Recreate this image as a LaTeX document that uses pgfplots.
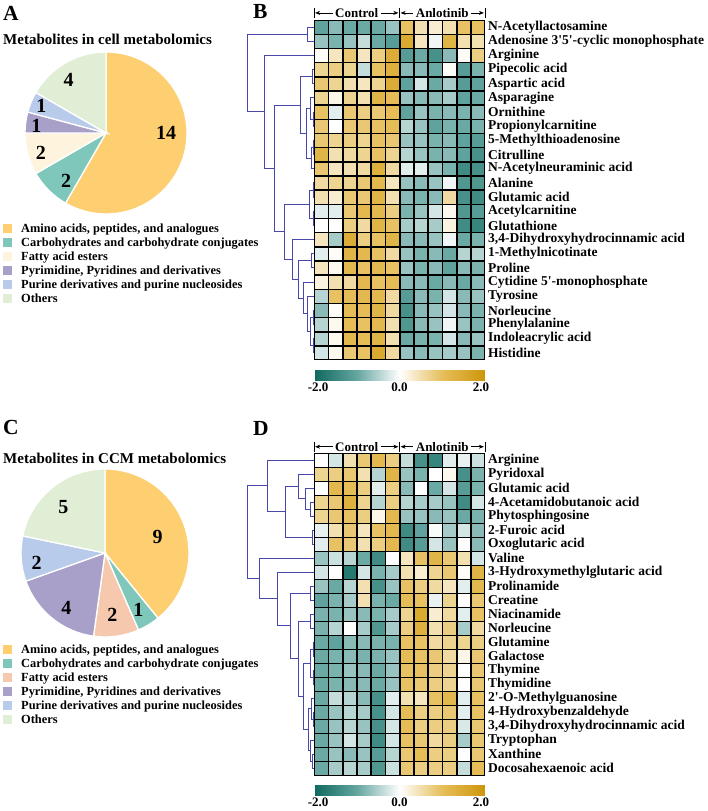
\documentclass[border=0pt]{standalone}
\usepackage{fontspec}
\setmainfont{Liberation Serif}
\usepackage{pgfplots}
\pgfplotsset{compat=1.18}
\usepackage{pgfplotstable}
\usetikzlibrary{arrows.meta}

\definecolor{amino}{RGB}{253,207,112}
\definecolor{carb}{RGB}{127,199,186}
\definecolor{fatA}{RGB}{254,243,221}
\definecolor{fatC}{RGB}{246,200,173}
\definecolor{pyr}{RGB}{168,160,200}
\definecolor{pur}{RGB}{184,203,235}
\definecolor{oth}{RGB}{225,238,214}
\definecolor{dendro}{RGB}{72,72,170}

\newcommand\fs[1]{\fontsize{#1}{#1}\selectfont}

% z-scores, cell metabolomics (rows top to bottom, 6 control + 6 anlotinib)
\pgfplotstableread{
r c1 c2 c3 c4 c5 c6 c7 c8 c9 c10 c11 c12
1 -1.1 -0.8 -1.0 -1.0 -1.0 -0.7 1.0 0.5 0.3 0.5 1.0 1.0
2 -0.7 -0.9 -0.7 -0.4 -1.0 -1.2 1.6 0.4 -0.1 1.3 0.5 0.5
3 0.05 0.4 0.9 0.4 0.8 1.5 -1.2 -1.0 -1.4 -0.8 0.05 0.8
4 0.7 0.8 0.7 -0.4 1.0 1.4 -0.8 -0.8 -1.0 0.05 -1.2 -0.9
5 0.9 0.7 0.5 0.4 0.7 1.5 -1.1 -0.3 -1.0 -0.6 -1.2 -1.1
6 0.7 0.15 0.7 0.5 1.3 1.1 -0.7 -0.8 -0.8 -0.6 -1.1 -1.0
7 1.0 -0.2 0.9 0.8 0.9 1.1 -1.1 -0.7 -0.9 -0.8 -0.9 -0.8
8 0.9 0.0 0.9 0.9 1.0 1.1 -0.5 -0.7 -1.1 -0.9 -1.0 -0.9
9 0.9 0.7 0.8 0.7 1.0 0.9 -0.7 -0.7 -0.9 -0.8 -1.1 -1.2
10 1.3 0.5 0.6 0.7 1.0 0.7 -0.5 -0.7 -0.9 -0.8 -1.1 -1.4
11 0.9 0.4 0.5 0.6 1.4 0.6 -0.2 -0.2 -0.7 -0.9 -1.5 -1.4
12 0.6 0.7 0.7 0.9 1.2 0.4 -0.7 -0.8 -0.7 -0.1 -1.3 -1.3
13 0.5 0.3 0.9 0.9 1.3 0.5 -0.8 -0.9 -0.8 0.6 -1.4 -1.5
14 -0.2 -0.2 0.9 1.2 1.2 0.8 -0.9 -0.7 -0.3 0.1 -1.3 -1.2
15 0.0 0.02 0.8 0.6 1.3 1.0 -0.6 -0.5 -0.6 0.2 -1.5 -1.6
16 0.4 -0.6 1.5 0.8 1.0 1.3 -0.8 -0.8 -0.7 -0.1 -1.0 -0.9
17 -0.2 0.05 1.3 1.2 1.0 0.6 -0.7 -0.9 -0.8 -1.0 -0.5 -0.5
18 0.4 0.1 1.2 1.0 1.2 1.0 -0.7 -0.9 -0.8 -1.1 -0.8 -0.9
19 0.2 0.5 0.6 1.2 1.0 1.1 -0.8 -0.8 -1.0 -0.8 -1.0 -0.8
20 -0.5 1.0 1.1 1.2 1.2 0.6 -1.2 -0.8 -0.9 -0.3 -0.8 -0.7
21 -0.8 0.05 1.1 1.1 1.3 0.6 -1.4 -0.8 -0.7 -0.3 -0.8 -0.9
22 -0.5 0.1 1.1 1.0 1.2 0.5 -1.3 -0.8 -0.7 -0.1 -0.7 -0.9
23 -0.5 0.1 1.2 1.1 1.3 0.5 -1.0 -0.9 -0.9 -0.3 -0.8 -0.7
24 -0.3 0.1 0.9 1.0 1.6 0.6 -0.7 -0.8 -0.7 -0.6 -0.7 -0.9
}\tabB

% z-scores, CCM metabolomics
\pgfplotstableread{
r c1 c2 c3 c4 c5 c6 c7 c8 c9 c10 c11 c12
1 0.0 -0.3 0.5 0.9 1.2 0.8 -0.4 -1.4 -1.6 -0.2 -0.15 -0.35
2 0.7 0.8 0.9 0.5 -0.5 1.3 -0.7 -0.9 0.0 0.1 -1.4 -0.9
3 0.0 1.2 1.1 0.8 -0.2 0.8 -0.8 0.0 -1.0 -0.3 -1.2 -0.9
4 0.7 0.9 1.4 0.7 -0.5 0.8 -0.5 -0.6 -0.6 -0.7 -1.5 -0.3
5 0.7 0.9 1.0 0.8 0.15 1.2 -0.7 -0.7 -0.8 -0.7 -1.0 -0.9
6 -0.15 0.5 0.9 0.4 1.0 1.2 -1.5 -1.1 -0.05 -0.6 -0.3 -0.8
7 -0.2 1.0 0.9 0.5 0.8 1.2 -1.5 -1.2 -0.3 -0.7 0.0 -0.8
8 -0.7 -0.35 -0.5 -1.0 -1.5 0.0 0.4 1.0 1.3 0.9 0.5 -0.3
9 -0.3 0.0 -1.8 -0.3 -0.9 -0.6 0.5 0.3 0.7 0.9 0.05 1.3
10 -0.7 -1.0 -0.5 0.5 -1.4 -0.7 1.0 0.8 0.6 0.4 -0.2 1.2
11 -1.1 -0.9 -0.6 0.5 -0.9 -1.0 1.1 1.0 -0.15 0.7 0.02 0.9
12 -0.9 -0.9 -0.7 -0.8 -0.9 -0.6 0.7 1.6 0.3 0.6 -0.2 1.0
13 -0.9 -0.5 0.0 -0.6 -1.3 -0.6 0.8 1.4 0.5 0.8 -0.6 0.6
14 -1.0 -1.1 -0.8 -0.8 -0.9 -0.9 1.0 1.0 0.6 0.7 0.7 0.8
15 -1.0 -0.9 -0.8 -0.9 -0.9 -0.7 1.1 1.0 0.9 0.6 0.15 0.9
16 -1.0 -0.9 -0.7 -0.8 -1.0 -0.7 1.0 1.0 0.8 0.7 0.0 0.9
17 -1.0 -0.9 -0.8 -0.8 -1.0 -0.7 1.0 0.9 0.8 0.7 0.0 0.9
18 -1.0 -0.4 -0.5 -0.8 -1.4 -0.2 0.5 0.4 1.0 1.2 -0.2 1.0
19 -1.0 -0.7 -0.5 -0.6 -1.4 -0.3 1.1 0.8 0.8 0.9 -0.2 1.0
20 -1.0 -0.7 -0.5 -0.7 -1.4 -0.3 1.1 0.8 0.8 0.8 -0.25 0.9
21 -1.0 -0.7 -0.3 -0.6 -1.5 -0.3 1.0 0.9 0.6 0.8 -0.6 0.9
22 -1.0 -0.7 -0.8 -0.7 -1.2 -0.5 0.9 1.1 0.8 0.8 0.0 0.9
23 -1.0 -0.6 -0.5 -0.6 -1.3 -0.35 0.9 0.8 0.8 0.8 -0.4 1.1
}\tabD

\pgfplotsset{
  heat/.style={
    scale only axis, width=171pt,
    xmin=0.5, xmax=12.5, y dir=reverse,
    axis line style={draw=none}, xtick=\empty,
    yticklabel pos=right, major tick length=0pt,
    y tick label style={font=\bfseries\fs{13.5}, anchor=west, inner sep=0pt, xshift=3pt},
    colormap={tealgold}{rgb255(0cm)=(15,105,95); rgb255(1cm)=(100,165,160);
      rgb255(2cm)=(255,255,255); rgb255(3cm)=(230,190,90); rgb255(4cm)=(205,150,10)},
    point meta min=-2.1, point meta max=2.1,
    clip=false,
    colorbar horizontal,
    colorbar style={at={(parent axis.south west)}, anchor=north west, yshift=-2pt,
      scale only axis, width=171pt, height=10pt,
      xtick={-2,0,2}, xticklabels={-2.0,0.0,2.0}, major tick length=0pt,
      axis line style={draw=none},
      x tick label style={font=\bfseries\fs{13}, inner sep=2pt}},
  },
  dend/.style={scale only axis, width=70pt, xmin=244, xmax=314,
    y dir=reverse, hide axis, clip=false},
  pie/.style={scale only axis, hide axis, anchor=center,
    xmin=-1, xmax=1, ymin=-1, ymax=1, clip=false},
}

% one cell column per control / anlotinib sample
\newcommand\cells[1]{%
  \pgfplotsinvokeforeach{1,...,12}{%
    \addplot[scatter, only marks, mark=square*, mark size=6.8pt, point meta=explicit,
      mark options={line width=0.6pt},
      scatter/use mapped color={draw=black, fill=mapped color, line width=0.6pt}]
      table[x expr=##1, y=r, meta=c##1] {#1};
  }}

% group header |<- Control ->|<- Anlotinib ->|
\newcommand\groupheader[3]{%
  \draw[line width=0.8pt] (axis cs:0.5,#1) -- (axis cs:0.5,#2)
    (axis cs:6.5,#1) -- (axis cs:6.5,#2) (axis cs:12.5,#1) -- (axis cs:12.5,#2);
  \draw[-{Stealth[length=5pt,width=4pt]}, line width=0.6pt] (axis cs:1.8,#3) -- (axis cs:0.58,#3);
  \draw[-{Stealth[length=5pt,width=4pt]}, line width=0.6pt] (axis cs:5.2,#3) -- (axis cs:6.42,#3);
  \draw[-{Stealth[length=5pt,width=4pt]}, line width=0.6pt] (axis cs:7.45,#3) -- (axis cs:6.58,#3);
  \draw[-{Stealth[length=5pt,width=4pt]}, line width=0.6pt] (axis cs:11.55,#3) -- (axis cs:12.42,#3);
  \node[font=\bfseries\fs{13}, inner sep=0pt] at (axis cs:3.5,#3) {Control};
  \node[font=\bfseries\fs{13}, inner sep=0pt] at (axis cs:9.5,#3) {Anlotinib};
}

% dendrogram link: child1 x, child1 y, node x, child2 y, child2 x
\newcommand\dn[5]{\addplot[color=dendro, line width=1pt, no markers]
  coordinates {(#1,#2) (#3,#2) (#3,#4) (#5,#4)};}

% pie: total, radius (pt), count/colour/label angle shift/label radius
\newcommand\drawpie[3]{%
  \pgfplotsextra{%
    \xdef\angA{90}%
    \foreach \n/\c/\da/\lr in {#3}{%
      \pgfmathsetmacro\angB{\angA-360*\n/#1}%
      \pgfmathsetmacro\angM{(\angA+\angB)/2+\da}%
      \fill[fill=\c, draw=white, line width=1.3pt] (axis cs:0,0)
        -- ([shift={(\angA:#2pt)}]axis cs:0,0)
        arc[start angle=\angA, end angle=\angB, radius=#2pt] -- cycle;
      \node[font=\bfseries\fs{20}, inner sep=0pt] at ([shift={(\angM:\lr pt)}]axis cs:0,0) {\n};
      \xdef\angA{\angB}%
    }}}

\newcommand\legrow[3]{%
  \fill[#2] (3pt,-#1pt) ++(0,4.5pt) rectangle ++(9pt,-9pt);
  \node[anchor=base west, inner sep=0pt, font=\bfseries\fs{12.4}] at (21pt,-#1pt-4.2pt) {#3};
}

\begin{document}
\begin{tikzpicture}
\useasboundingbox (0,0) rectangle (708pt,-811pt);

% ---------- A ----------
\node[anchor=base west, inner sep=0pt, font=\bfseries\fs{21.5}] at (3pt,-20pt) {A};
\node[anchor=base west, inner sep=0pt, font=\bfseries\fs{15}] at (3pt,-44pt) {Metabolites in cell metabolomics};
\begin{axis}[pie, at={(106pt,-133pt)}, width=162pt, height=162pt]
\drawpie{24}{81}{14/amino/15/60, 2/carb/5/62, 2/fatA/2/68, 1/pyr/2/70, 1/pur/0/70, 4/oth/5/65}
\end{axis}
\legrow{228}{amino}{Amino acids, peptides, and analogues}
\legrow{242}{carb}{Carbohydrates and carbohydrate conjugates}
\legrow{256}{fatA}{Fatty acid esters}
\legrow{270}{pyr}{Pyrimidine, Pyridines and derivatives}
\legrow{284}{pur}{Purine derivatives and purine nucleosides}
\legrow{298}{oth}{Others}

% ---------- C ----------
\node[anchor=base west, inner sep=0pt, font=\bfseries\fs{21.5}] at (3pt,-434pt) {C};
\node[anchor=base west, inner sep=0pt, font=\bfseries\fs{15}] at (3pt,-463pt) {Metabolites in CCM metabolomics};
\begin{axis}[pie, at={(105pt,-553pt)}, width=168pt, height=168pt]
\drawpie{23}{84}{9/amino/-3/55, 1/carb/-1/66, 2/fatC/-1/62, 4/pyr/4/67, 2/pur/4/69, 5/oth/3/62}
\end{axis}
\legrow{649}{amino}{Amino acids, peptides, and analogues}
\legrow{663}{carb}{Carbohydrates and carbohydrate conjugates}
\legrow{677}{fatC}{Fatty acid esters}
\legrow{691}{pyr}{Pyrimidine, Pyridines and derivatives}
\legrow{705}{pur}{Purine derivatives and purine nucleosides}
\legrow{719}{oth}{Others}

% ---------- B ----------
\node[anchor=base west, inner sep=0pt, font=\bfseries\fs{21.5}] at (253pt,-18pt) {B};
\begin{axis}[heat, at={(314pt,-20pt)}, anchor=north west, height=340pt,
  ymin=0.5, ymax=24.5, ytick={1,...,24},
  yticklabels={{N-Acetyllactosamine},{Adenosine 3\textquotesingle5\textquotesingle-cyclic monophosphate},
    {Arginine},{Pipecolic acid},{Aspartic acid},{Asparagine},{Ornithine},{Propionylcarnitine},
    {5-Methylthioadenosine},{Citrulline},{N-Acetylneuraminic acid},{Alanine},{Glutamic acid},
    {Acetylcarnitine},{Glutathione},{3,4-Dihydroxyhydrocinnamic acid},{1-Methylnicotinate},
    {Proline},{Cytidine 5\textquotesingle-monophosphate},{Tyrosine},{Norleucine},{Phenylalanine},
    {Indoleacrylic acid},{Histidine}}]
\cells{\tabB}
\groupheader{-0.35}{0.36}{0.0}
\end{axis}
\begin{axis}[dend, at={(244pt,-20pt)}, anchor=north west, height=340pt, ymin=0.5, ymax=24.5]
\dn{314}{1}{307}{2}{314}
\dn{314}{7}{313}{8}{314}
\dn{314}{6}{310}{7.5}{313}
\dn{314}{9}{313}{10}{314}
\dn{313}{9.5}{311}{11}{314}
\dn{310}{6.75}{306}{10.25}{311}
\dn{314}{4}{312}{5}{314}
\dn{312}{4.5}{300}{8.5}{306}
\dn{314}{12}{313}{13}{314}
\dn{314}{14}{313}{15}{314}
\dn{313}{12.5}{309}{14.5}{313}
\dn{314}{21}{313}{22}{314}
\dn{314}{23}{313}{24}{314}
\dn{313}{21.5}{310}{23.5}{313}
\dn{314}{20}{307}{22.5}{310}
\dn{314}{19}{303}{21.25}{307}
\dn{314}{17}{311}{18}{314}
\dn{311}{17.5}{298}{20.125}{303}
\dn{314}{16}{292}{18.8125}{298}
\dn{309}{13.5}{284}{17.40625}{292}
\dn{300}{6.5}{274}{15.453}{284}
\dn{314}{3}{264}{10.977}{274}
\dn{307}{1.5}{247}{6.988}{264}
\end{axis}

% ---------- D ----------
\node[anchor=base west, inner sep=0pt, font=\bfseries\fs{21.5}] at (253pt,-435pt) {D};
\begin{axis}[heat, at={(314pt,-453pt)}, anchor=north west, height=322pt,
  ymin=0.5, ymax=23.5, ytick={1,...,23},
  yticklabels={{Arginine},{Pyridoxal},{Glutamic acid},{4-Acetamidobutanoic acid},{Phytosphingosine},
    {2-Furoic acid},{Oxoglutaric acid},{Valine},{3-Hydroxymethylglutaric acid},{Prolinamide},
    {Creatine},{Niacinamide},{Norleucine},{Glutamine},{Galactose},{Thymine},{Thymidine},
    {2\textquotesingle-O-Methylguanosine},{4-Hydroxybenzaldehyde},{3,4-Dihydroxyhydrocinnamic acid},
    {Tryptophan},{Xanthine},{Docosahexaenoic acid}}]
\cells{\tabD}
\groupheader{-0.31}{0.41}{0.05}
\end{axis}
\begin{axis}[dend, at={(244pt,-453pt)}, anchor=north west, height=322pt, ymin=0.5, ymax=23.5]
\dn{314}{4}{310}{5}{314}
\dn{314}{3}{305}{4.5}{310}
\dn{314}{2}{298}{3.75}{305}
\dn{314}{6}{312}{7}{314}
\dn{298}{2.875}{285}{6.5}{312}
\dn{314}{1}{267}{4.6875}{285}
\dn{314}{10}{310}{11}{314}
\dn{314}{12}{310}{13}{314}
\dn{314}{14}{313}{15}{314}
\dn{314}{16}{313}{17}{314}
\dn{313}{14.5}{310}{16.5}{313}
\dn{314}{19}{313}{20}{314}
\dn{314}{18}{311}{19.5}{313}
\dn{314}{22}{312}{23}{314}
\dn{314}{21}{310}{22.5}{312}
\dn{311}{18.75}{308}{21.75}{310}
\dn{310}{15.5}{303}{20.25}{308}
\dn{310}{12.5}{298}{17.875}{303}
\dn{310}{10.5}{290}{15.1875}{298}
\dn{314}{9}{277}{12.84375}{290}
\dn{314}{8}{259}{10.921875}{277}
\dn{267}{2.84375}{247}{9.4609}{259}
\end{axis}
\end{tikzpicture}
\end{document}
